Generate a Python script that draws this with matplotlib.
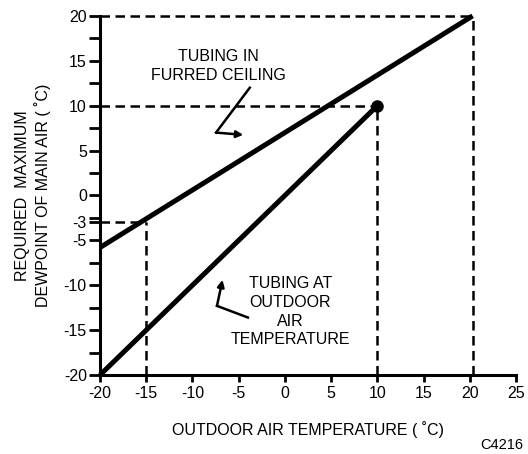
import matplotlib
matplotlib.use('Agg')
import matplotlib.pyplot as plt

plt.rcParams['font.family'] = ['Liberation Sans', 'DejaVu Sans']
plt.rcParams['axes.unicode_minus'] = False

# data
furred_x = [-20, 20.3]
furred_y = [-5.8, 20]
outdoor_x = [-20, 10]
outdoor_y = [-20, 10]

# dashed guide lines (x pairs, y pairs)
guides = [
    ([-20, 20.3], [20, 20]),
    ([20.3, 20.3], [-20, 20]),
    ([-20, 10], [10, 10]),
    ([10, 10], [-20, 10]),
    ([-20, -15], [-3, -3]),
    ([-15, -15], [-20, -3]),
]

x_ticks = [-20, -15, -10, -5, 0, 5, 10, 15, 20, 25]
y_ticks = [-20, -15, -10, -5, -3, 0, 5, 10, 15, 20]
y_minor = [-17.5, -12.5, -7.5, -2.5, 2.5, 7.5, 12.5, 17.5]

fig = plt.figure(figsize=(5.28, 4.54), dpi=100)
ax = fig.add_axes([0.1894, 0.174, 0.788, 0.791])

for gx, gy in guides:
    ax.plot(gx, gy, color='black', lw=1.8, linestyle=(0, (3.8, 2.2)), clip_on=False)

ax.plot(furred_x, furred_y, color='black', lw=3.6, solid_capstyle='butt', clip_on=False)
ax.plot(outdoor_x, outdoor_y, color='black', lw=3.6, solid_capstyle='butt', clip_on=False)
ax.plot([outdoor_x[-1]], [outdoor_y[-1]], 'o', color='black', ms=8, clip_on=False)

ax.set_xlim(-20, 25)
ax.set_ylim(-20, 20)
ax.set_xticks(x_ticks)
ax.set_yticks(y_ticks)
ax.set_yticks(y_minor, minor=True)

for s in ['top', 'right']:
    ax.spines[s].set_visible(False)
for s in ['left', 'bottom']:
    ax.spines[s].set_linewidth(2.2)

ax.tick_params(axis='both', which='both', width=2, labelsize=11.5)
ax.tick_params(axis='x', length=5, pad=3)
ax.tick_params(axis='y', which='major', length=8, pad=1.5)
ax.tick_params(axis='y', which='minor', length=8)

# annotations
ax.text(-7.2, 14.4, 'TUBING IN\nFURRED CEILING', ha='center', va='center',
        fontsize=11.5, linespacing=1.3)
ax.plot([-3.8, -7.45], [12.0, 7.0], color='black', lw=1.8)
ax.annotate('', xy=(-4.5, 6.75), xytext=(-7.45, 7.0),
            arrowprops=dict(arrowstyle='-|>', color='black', lw=1.8,
                            mutation_scale=10, shrinkA=0, shrinkB=0))

ax.text(0.6, -12.95, 'TUBING AT\nOUTDOOR\nAIR\nTEMPERATURE', ha='center', va='center',
        fontsize=11.5, linespacing=1.3)
ax.plot([-4.0, -7.35], [-13.6, -12.3], color='black', lw=1.8)
ax.annotate('', xy=(-6.75, -9.4), xytext=(-7.35, -12.3),
            arrowprops=dict(arrowstyle='-|>', color='black', lw=1.8,
                            mutation_scale=10, shrinkA=0, shrinkB=0))

ax.set_xlabel('OUTDOOR AIR TEMPERATURE ( \u02daC)', fontsize=11.5, labelpad=14)
ax.set_ylabel('REQUIRED  MAXIMUM\nDEWPOINT OF MAIN AIR ( \u02daC)', fontsize=11.5,
              labelpad=9, linespacing=1.3)
fig.text(0.951, 0.02, 'C4216', ha='center', va='center', fontsize=10.5)

fig.savefig('out.png', dpi=100)
